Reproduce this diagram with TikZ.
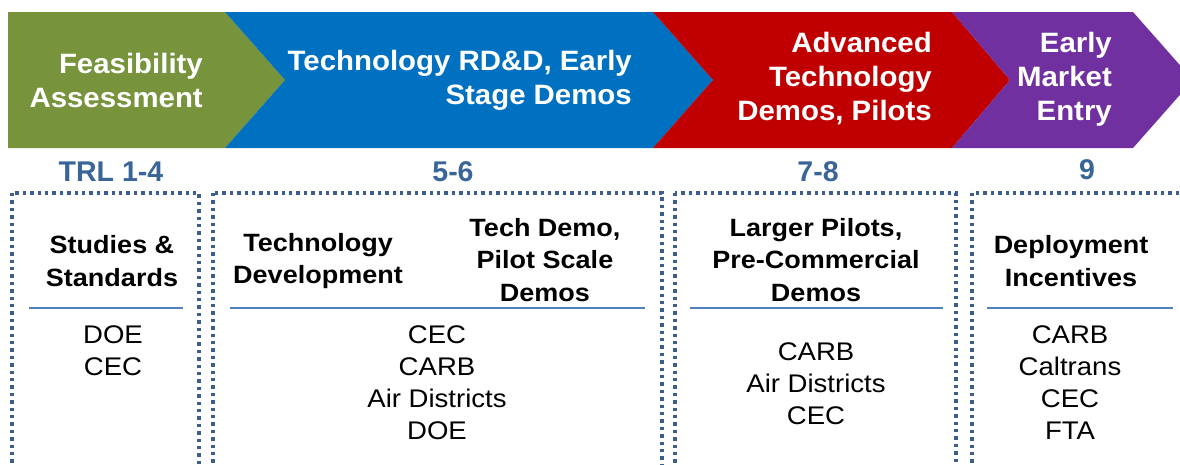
\documentclass[tikz,border=0pt]{standalone}
\usepackage{fontspec}
\setmainfont{Liberation Sans}
\newfontfamily\widefont[FakeStretch=1.08]{Liberation Sans}
\newfontfamily\phasefont[FakeStretch=1.05]{Liberation Sans}
\definecolor{cgreen}{HTML}{77933C}
\definecolor{cblue}{HTML}{0070C0}
\definecolor{cred}{HTML}{C00000}
\definecolor{cpurple}{HTML}{7030A0}
\definecolor{trl}{HTML}{3A6598}
\definecolor{dotc}{HTML}{3B5E8C}
\definecolor{sepc}{HTML}{4F81BD}
\tikzset{
  phase/.style={text=white,font=\phasefont\fontsize{28}{34}\selectfont\bfseries,align=right,inner sep=0pt,anchor=east},
  trllabel/.style={text=trl,font=\fontsize{28.5}{34}\selectfont\bfseries,inner sep=0pt},
  head/.style={text=black,font=\widefont\fontsize{25}{32.5}\selectfont\bfseries,align=center,inner sep=0pt},
  body/.style={text=black,font=\widefont\fontsize{25.5}{32}\selectfont,align=center,inner sep=0pt},
  dotbox/.style={draw=dotc,line width=3.4pt,dash pattern=on 3.4pt off 4pt},
  sep/.style={draw=sepc,line width=2pt}
}
\begin{document}
\begin{tikzpicture}[x=1pt,y=-1pt]
\clip (0,0) rectangle (1180,464);
\fill[white] (0,0) rectangle (1180,464);
% chevrons
\fill[cgreen] (8,12) -- (225,12) -- (285,80) -- (225,148) -- (8,148) -- cycle;
\fill[cblue] (225,12) -- (653,12) -- (713,80) -- (653,148) -- (225,148) -- (285,80) -- cycle;
\fill[cred] (653,12) -- (952,12) -- (1010,80) -- (952,148) -- (653,148) -- (713,80) -- cycle;
\fill[cpurple] (952,12) -- (1133,12) -- (1193,80) -- (1133,148) -- (952,148) -- (1010,80) -- cycle;
\node[phase] (p1) at (203,80) {Feasibility\\Assessment};
\node[phase] (p2) at (632,80) {Technology RD\&D, Early\\Stage Demos};
\node[phase] (p3) at (932,79) {Advanced\\Technology\\Demos, Pilots};
\node[phase] (p4) at (1112,79) {Early\\Market\\Entry};
% TRL labels
\node[trllabel] (t1) at (111,172) {TRL 1-4};
\node[trllabel] (t2) at (453,172) {5-6};
\node[trllabel] (t3) at (818,172) {7-8};
\node[trllabel] (t4) at (1087,170) {9};
% dotted boxes
\draw[dotbox] (12,193) rectangle (199,520);
\draw[dotbox] (213,193) rectangle (662,520);
\draw[dotbox] (675,193) rectangle (956,520);
\draw[dotbox] (972,193) rectangle (1200,520);
% separators
\draw[sep] (29,308) -- (183,308);
\draw[sep] (230,308) -- (645,308);
\draw[sep] (690,308) -- (943,308);
\draw[sep] (987,308) -- (1173,308);
% headers
\node[head] (h1) at (112,261) {Studies \&\\Standards};
\node[head] (h2a) at (318,261) {Technology\\Development};
\node[head] (h2b) at (545,260) {Tech Demo,\\Pilot Scale\\Demos};
\node[head] (h3) at (816,260) {Larger Pilots,\\Pre-Commercial\\Demos};
\node[head] (h4) at (1071,261) {Deployment\\Incentives};
% bodies
\node[body] (b1) at (113,351) {DOE\\CEC};
\node[body] (b2) at (437,383) {CEC\\CARB\\Air Districts\\DOE};
\node[body] (b3) at (816,384) {CARB\\Air Districts\\CEC};
\node[body] (b4) at (1070,383) {CARB\\Caltrans\\CEC\\FTA};
\end{tikzpicture}
\end{document}
